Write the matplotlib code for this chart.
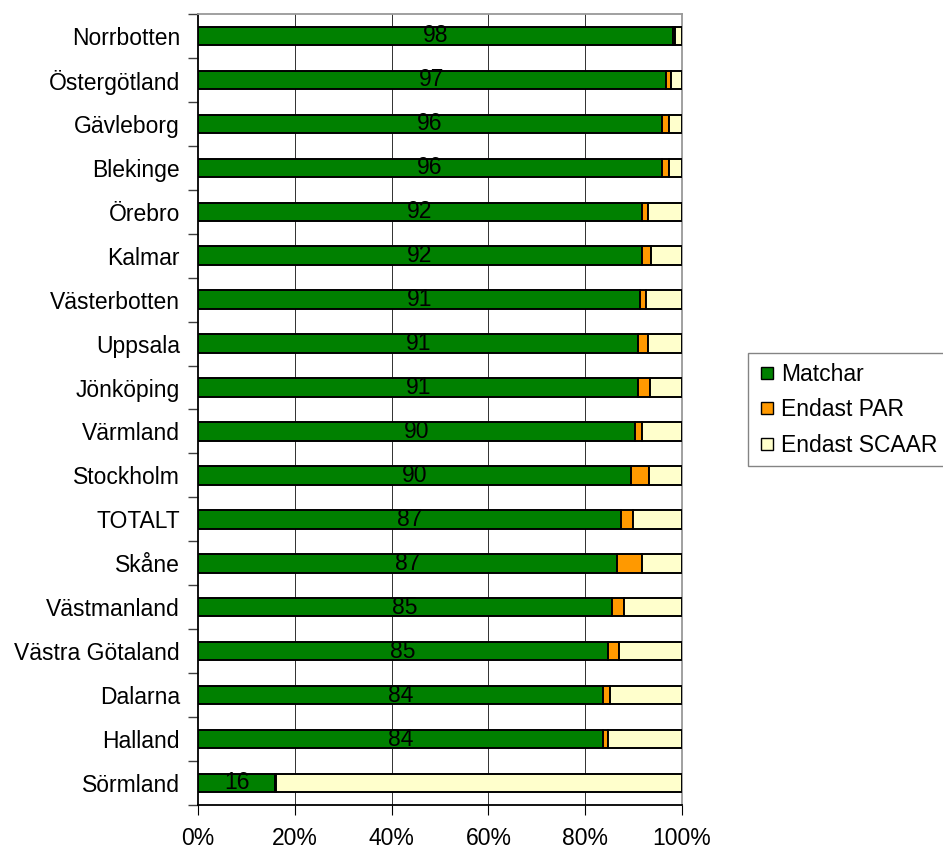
import matplotlib.pyplot as plt
import numpy as np
from matplotlib.lines import Line2D

# Län (uppifrån och ned)
lan = ['Norrbotten', 'Östergötland', 'Gävleborg', 'Blekinge', 'Örebro', 'Kalmar',
       'Västerbotten', 'Uppsala', 'Jönköping', 'Värmland', 'Stockholm', 'TOTALT',
       'Skåne', 'Västmanland', 'Västra Götaland', 'Dalarna', 'Halland', 'Sörmland']

# Andelar i procent
matchar = [98.1, 96.7, 95.9, 95.9, 91.7, 91.7, 91.4, 91.0, 91.0,
           90.3, 89.5, 87.3, 86.6, 85.5, 84.7, 83.6, 83.6, 15.9]
endast_par = [0.4, 1.0, 1.5, 1.5, 1.2, 2.0, 1.2, 1.9, 2.3,
              1.5, 3.7, 2.5, 5.2, 2.5, 2.2, 1.5, 1.1, 0.3]
endast_scaar = [100 - m - p for m, p in zip(matchar, endast_par)]

etiketter = ['98', '97', '96', '96', '92', '92', '91', '91', '91',
             '90', '90', '87', '87', '85', '85', '84', '84', '16']

fig = plt.figure(figsize=(9.43, 8.5), dpi=100)
ax = fig.add_axes([0.21, 0.053, 0.5132, 0.9305])

y = np.arange(len(lan))
h = 0.42
ax.barh(y, matchar, h, color='#008000', edgecolor='black', linewidth=1.4, zorder=3)
ax.barh(y, endast_par, h, left=matchar, color='#FF9900', edgecolor='black', linewidth=1.4, zorder=3)
left2 = [m + p for m, p in zip(matchar, endast_par)]
ax.barh(y, endast_scaar, h, left=left2, color='#FFFFCC', edgecolor='black', linewidth=1.4, zorder=3)

# Värden mitt i de gröna staplarna
for i in range(len(lan)):
    ax.text(matchar[i] / 2, y[i], etiketter[i], ha='center', va='center',
            fontsize=16.5, family='Liberation Sans', zorder=4)

ax.set_xlim(0, 100)
ax.set_ylim(len(lan) - 0.5, -0.5)
ax.set_xticks([0, 20, 40, 60, 80, 100])
ax.set_xticklabels(['0%', '20%', '40%', '60%', '80%', '100%'], fontsize=16.5, family='Liberation Sans')
ax.set_yticks(y)
ax.set_yticklabels(lan, fontsize=16.5, family='Liberation Sans')
ax.tick_params(axis='y', which='major', length=0, pad=13)
ax.set_yticks(np.arange(len(lan) + 1) - 0.5, minor=True)
ax.tick_params(axis='y', which='minor', length=7, direction='out', width=1, color='#404040')
ax.tick_params(axis='x', length=7, direction='out', pad=9, color='black')

for x in [20, 40, 60, 80]:
    ax.axvline(x, color='#303030', linewidth=0.7, zorder=1)

ax.spines['left'].set_color('black')
ax.spines['bottom'].set_color('black')
ax.spines['top'].set_color('#999999')
ax.spines['right'].set_color('#999999')
for s in ax.spines.values():
    s.set_linewidth(1.3)

# Förklaring
handles = [Line2D([], [], marker='s', linestyle='', markersize=9, markerfacecolor=c,
                  markeredgecolor='black') for c in ['#008000', '#FF9900', '#FFFFCC']]
leg = fig.legend(handles, ['Matchar', 'Endast PAR', 'Endast SCAAR'],
                 loc='center left', bbox_to_anchor=(0.793, 0.518),
                 prop={'family': 'Liberation Sans', 'size': 16.5},
                 frameon=True, fancybox=False, handletextpad=0.15,
                 labelspacing=0.55, borderpad=0.4, borderaxespad=0, handlelength=0.9)
leg.get_frame().set_edgecolor('#666666')
leg.get_frame().set_linewidth(1.0)

plt.savefig('out.png', dpi=100)
